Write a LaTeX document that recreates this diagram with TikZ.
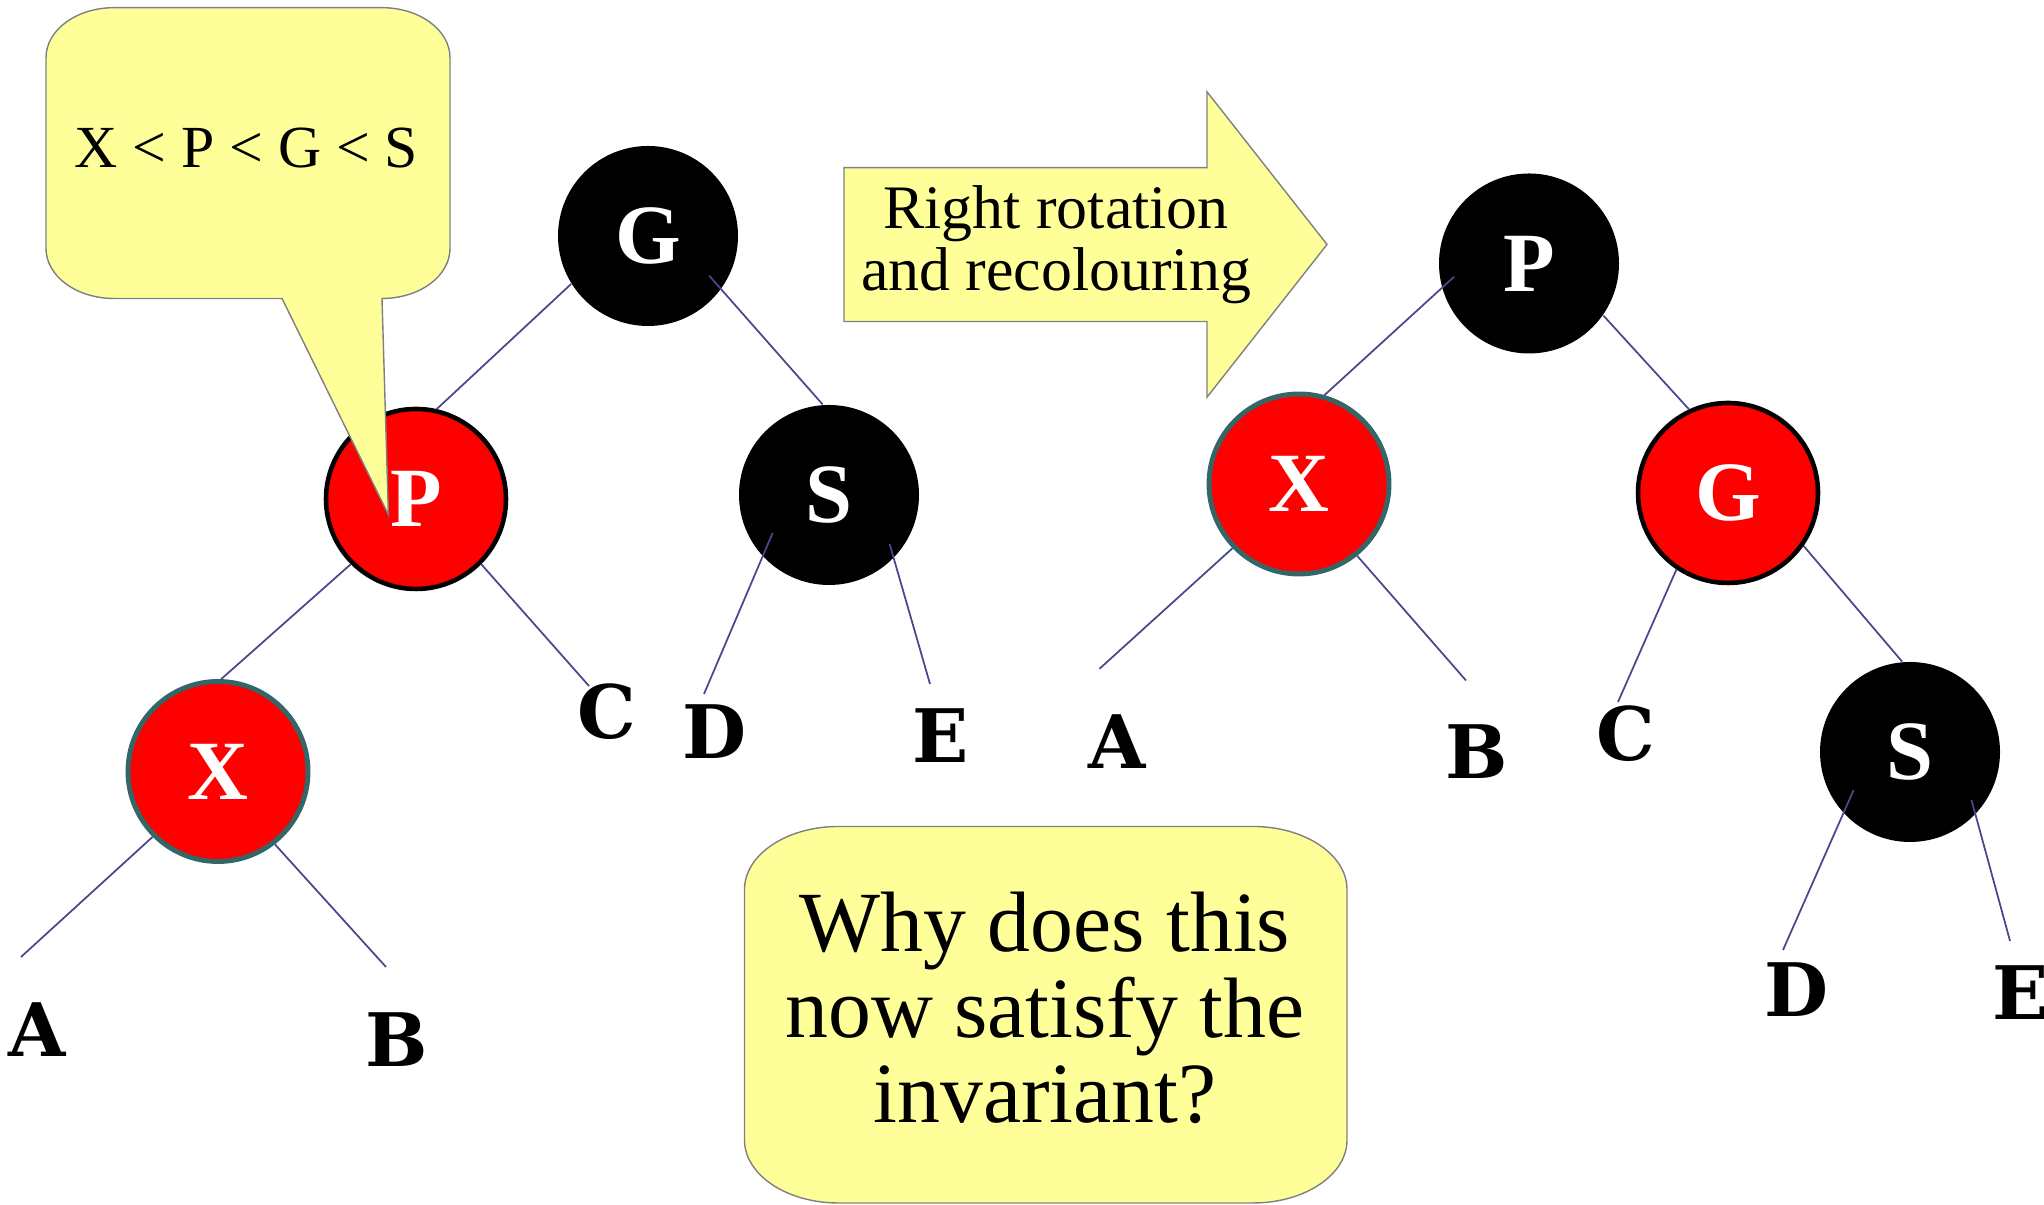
\documentclass[tikz,border=0pt]{standalone}
\usepackage{fontspec}
\setmainfont{Liberation Serif}
\newfontfamily\leaffont{DejaVu Serif}
\usetikzlibrary{positioning}

\definecolor{noteyellow}{HTML}{FFFF99}
\definecolor{branchblue}{RGB}{72,72,140}
\definecolor{slateborder}{HTML}{336666}

\begin{document}
\begin{tikzpicture}[
			rbnode/.style={circle, minimum size=1.8cm, inner sep=0pt, text=white, font=\fontsize{24}{24}\selectfont\bfseries},
			blacknode/.style={rbnode, fill=black},
			rednode/.style={rbnode, fill=red, draw=black, line width=1.3pt},
			newred/.style={rbnode, fill=red, draw=slateborder, line width=1.4pt},
			leaf/.style={inner sep=0pt, font=\fontsize{21}{21}\selectfont\leaffont\bfseries},
			branch/.style={draw=branchblue, line width=0.5pt},
			note/.style={fill=noteyellow, draw=gray, line width=0.4pt}
			]
			\useasboundingbox (0,0) rectangle (20.44,12.05);
			
			% ---------------- LEFT TREE ----------------
			\node[blacknode] (lG) at (6.48,9.69) {G};
			\node[rednode] (lP) at (4.16,7.06) {P};
			\node[blacknode] (lS) at (8.29,7.10) {S};
			\node[newred] (lX) at (2.18,4.335) {X};
			
			\node[leaf] (lA) at (0.37,1.75) {A};
			\node[leaf] (lB) at (3.97,1.65) {B};
			\node[leaf] (lC) at (6.07,4.93) {C};
			\node[leaf] (lD) at (7.14,4.73) {D};
			\node[leaf] (lE) at (9.41,4.69) {E};
			
			\draw[branch] (lG.212) -- (lP.77);
			\draw[branch] ([shift={(-33:0.73)}]lG.center) -- (lS.94);
			\draw[branch] (lP.225) -- (lX.88);
			\draw[branch] (lP.-45) -- ([shift={(-0.18,0.26)}]lC.center);
			\draw[branch] (lX.225) -- ([shift={(-0.16,0.73)}]lA.center);
			\draw[branch] (lX.-52) -- ([shift={(-0.11,0.73)}]lB.center);
			\draw[branch] ([shift={(214:0.68)}]lS.center) -- ([shift={(-0.10,0.38)}]lD.center);
			\draw[branch] ([shift={(-39:0.78)}]lS.center) -- ([shift={(-0.11,0.52)}]lE.center);
			
			% ordering callout, its tail points at P
			\filldraw[note] (2.82,9.065) -- (1.14,9.065)
			arc[start angle=270, end angle=180, x radius=0.68, y radius=0.5] -- (0.46,11.473)
			arc[start angle=180, end angle=90, x radius=0.68, y radius=0.5] -- (3.82,11.973)
			arc[start angle=90, end angle=0, x radius=0.68, y radius=0.5] -- (4.50,9.565)
			arc[start angle=0, end angle=-90, x radius=0.68, y radius=0.5] -- (3.884,6.903) -- cycle;
			\node[font=\fontsize{17}{17}\selectfont] (order) at (2.465,10.57) {X < P < G < S};
			
			% ---------------- ROTATION ARROW ----------------
			\filldraw[note] (8.44,8.835) -- (8.44,10.374) -- (12.07,10.374) -- (12.07,11.132)
			-- (13.27,9.605) -- (12.07,8.078) -- (12.07,8.835) -- cycle;
			\node[align=center, font=\fontsize{17.6}{17.6}\selectfont] (rotlabel) at (10.56,9.60) {Right rotation\\and recolouring};
			
			% ---------------- RIGHT TREE ----------------
			\node[blacknode] (rP) at (15.29,9.415) {P};
			\node[newred] (rX) at (12.99,7.21) {X};
			\node[rednode] (rG) at (17.28,7.12) {G};
			\node[blacknode] (rS) at (19.10,4.53) {S};
			
			\node[leaf] (rA) at (11.175,4.632) {A};
			\node[leaf] (rB) at (14.77,4.535) {B};
			\node[leaf] (rC) at (16.26,4.71) {C};
			\node[leaf] (rD) at (17.96,2.15) {D};
			\node[leaf] (rE) at (20.21,2.12) {E};
			
			\draw[branch] ([shift={(190:0.76)}]rP.center) -- (rX.74);
			\draw[branch] (rP.-35) -- (rG.115);
			\draw[branch] (rX.224) -- ([shift={(-0.18,0.73)}]rA.center);
			\draw[branch] (rX.-51) -- ([shift={(-0.11,0.71)}]rB.center);
			\draw[branch] (rG.236) -- ([shift={(-0.08,0.32)}]rC.center);
			\draw[branch] (rG.-35) -- (rS.95);
			\draw[branch] ([shift={(214:0.68)}]rS.center) -- ([shift={(-0.13,0.40)}]rD.center);
			\draw[branch] ([shift={(-38:0.78)}]rS.center) -- ([shift={(-0.11,0.52)}]rE.center);
			
			% ---------------- QUESTION ----------------
			\filldraw[note] (8.385,0.02) -- (12.53,0.02)
			arc[start angle=-90, end angle=0, x radius=0.94, y radius=0.63] -- (13.47,3.155)
			arc[start angle=0, end angle=90, x radius=0.94, y radius=0.63] -- (8.385,3.785)
			arc[start angle=90, end angle=180, x radius=0.94, y radius=0.63] -- (7.445,0.65)
			arc[start angle=180, end angle=270, x radius=0.94, y radius=0.63] -- cycle;
			\node[align=center, font=\fontsize{24.4}{24.4}\selectfont] (question) at (10.45,1.97) {Why does this\\now satisfy the\\invariant?};
			
		\end{tikzpicture}
\end{document}
